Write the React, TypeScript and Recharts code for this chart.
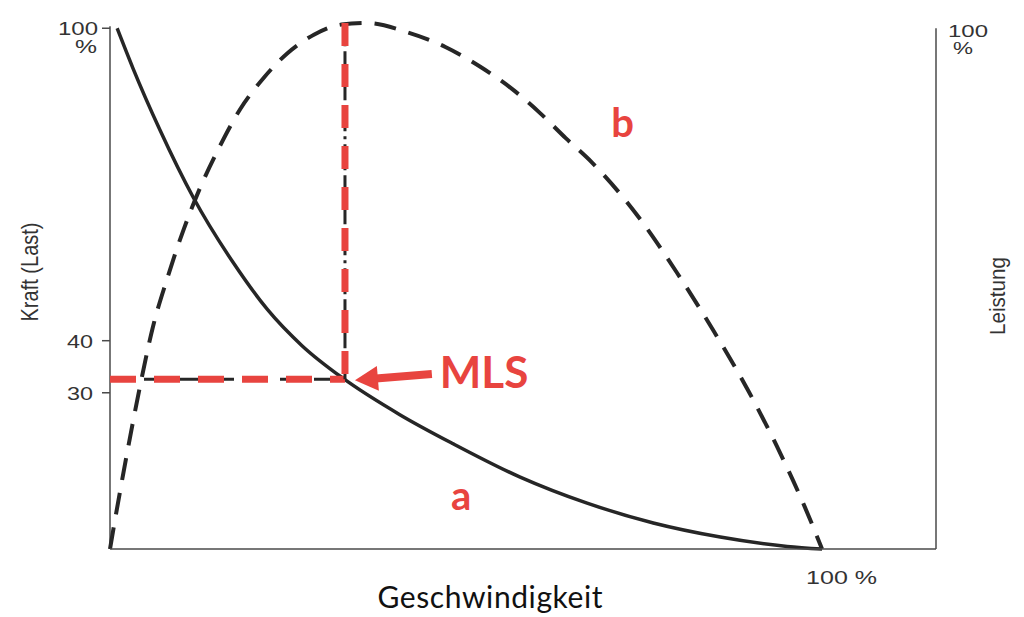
import React from 'react';
import { LineChart, Line, XAxis, YAxis, ReferenceLine, ReferenceDot } from 'recharts';

// curve a: force (Kraft) against speed
const FORCE_X = [1, 3.2, 7, 11.7, 17.3, 22.1, 27, 32.7, 40.7, 48.2, 57.6, 67, 76.3, 85.7, 95.1, 100];
const FORCE_Y = [100, 92.4, 80.5, 67.5, 55, 46, 39, 32.8, 25.8, 20.2, 13.8, 8.8, 5, 2.3, 0.5, 0];

// curve b: power (Leistung) against speed
const POWER_X = [0, 0.5, 1.8, 3.1, 4.4, 6, 8, 10.3, 12.7, 15.3, 18.3, 21.6, 25, 28.7, 32.5, 36, 41.6, 47.1, 52, 56.5, 60.4, 64, 67.7, 74.2, 79.6, 84.8, 89.6, 93.7, 97.6, 100];
const POWER_Y = [0, 4, 14, 23.5, 32.5, 42.5, 51.8, 61.2, 69.5, 77, 84.5, 90.5, 95.3, 98.8, 100.7, 101, 99.3, 96.4, 92.6, 88.3, 83.7, 78.9, 74.2, 63.8, 53.1, 41.8, 30.5, 19.6, 8, 0];

const LEFT_TICKS = [30, 40, 100];
const RIGHT_TICKS = [100];
const SPEED_TICKS = [100];

// MLS point (speed, force) and the arrow pointing at it
const MLS_POINT = [33, 32.6];
const ARROW_FROM = [45.2, 33.6];
const ARROW_TO = [34.4, 32.4];

const RED = '#e8443f';
const INK = '#262626';
const AXIS = '#4a4a4a';
const TICK_FONT = '"Liberation Sans", Arial, sans-serif';
const LABEL_FONT = 'Lato, "Open Sans", sans-serif';

const forceData = FORCE_X.map((x, i) => ({ x, y: FORCE_Y[i] }));
const powerData = POWER_X.map((x, i) => ({ x, y: POWER_Y[i] }));

const LeftTick = ({ x, y, payload }: any) => {
  if (payload.value === 100) {
    return (
      <text fill="#333" fontFamily={TICK_FONT} fontSize={18} textAnchor="end">
        <tspan x={x - 4} y={y + 7} textLength={40} lengthAdjust="spacingAndGlyphs">100</tspan>
        <tspan x={x - 5} y={y + 25} textLength={22} lengthAdjust="spacingAndGlyphs">%</tspan>
      </text>
    );
  }
  return (
    <text x={x - 9} y={y + 7} textAnchor="end" fill="#333" fontFamily={TICK_FONT} fontSize={18}
      textLength={26} lengthAdjust="spacingAndGlyphs">
      {payload.value}
    </text>
  );
};

const RightTick = ({ x, y }: any) => (
  <text fill="#333" fontFamily={TICK_FONT} fontSize={16}>
    <tspan x={x + 12} y={y + 9} textLength={40} lengthAdjust="spacingAndGlyphs">100</tspan>
    <tspan x={x + 17} y={y + 26} textLength={20} lengthAdjust="spacingAndGlyphs">%</tspan>
  </text>
);

const SpeedTick = ({ x, y }: any) => (
  <text x={x - 16} y={y + 35} fill="#333" fontFamily={TICK_FONT} fontSize={18}
    textLength={71} lengthAdjust="spacingAndGlyphs">
    100 %
  </text>
);

const arrowShape = (p: any) => {
  const { x1, y1, x2, y2 } = p;
  const len = Math.hypot(x2 - x1, y2 - y1) || 1;
  const ux = (x2 - x1) / len;
  const uy = (y2 - y1) / len;
  const head = 23;
  const half = 12.5;
  const bx = x2 - ux * head;
  const by = y2 - uy * head;
  return (
    <g>
      <line x1={x1} y1={y1} x2={bx + ux * 2} y2={by + uy * 2} stroke={RED} strokeWidth={8} />
      <polygon
        points={`${x2},${y2} ${bx - uy * half},${by + ux * half} ${bx + uy * half},${by - ux * half}`}
        fill={RED}
      />
    </g>
  );
};

const textShape = (label: string, size: number, anchor: string) => (p: any) => (
  <text x={p.cx} y={p.cy} textAnchor={anchor} fill={RED} fontFamily={LABEL_FONT}
    fontWeight={700} fontSize={size}>
    {label}
  </text>
);

export default function App() {
  return (
    <div style={{ position: 'absolute', left: 0, top: 0, width: 1024, height: 617, background: '#fff' }}>
      <LineChart width={1024} height={617} margin={{ top: 22, right: 28, bottom: 38, left: 50 }}>
        <XAxis
          type="number"
          dataKey="x"
          domain={[0, 116]}
          ticks={SPEED_TICKS}
          tickLine={false}
          tickSize={0}
          tickMargin={0}
          height={30}
          stroke={AXIS}
          strokeWidth={1.5}
          tick={<SpeedTick />}
          label={{
            content: () => (
              <text x={490} y={608} textAnchor="middle" fill="#111" fontFamily={LABEL_FONT} fontSize={30}
                textLength={225} lengthAdjust="spacing">
                Geschwindigkeit
              </text>
            ),
          }}
        />
        <YAxis
          yAxisId="left"
          type="number"
          domain={[0, 101.2]}
          ticks={LEFT_TICKS}
          width={60}
          axisLine={false}
          tickSize={8}
          tickMargin={0}
          tickLine={{ stroke: AXIS, strokeWidth: 1.5 }}
          tick={<LeftTick />}
          label={{
            content: () => (
              <text x={29} y={272} transform="rotate(-90 29 272)" textAnchor="middle" dominantBaseline="central"
                fill="#333" fontFamily={TICK_FONT} fontSize={24} textLength={99} lengthAdjust="spacingAndGlyphs">
                Kraft (Last)
              </text>
            ),
          }}
        />
        <YAxis
          yAxisId="right"
          orientation="right"
          type="number"
          domain={[0, 101.2]}
          ticks={RIGHT_TICKS}
          width={60}
          axisLine={false}
          tickLine={false}
          tickSize={0}
          tickMargin={0}
          tick={<RightTick />}
          label={{
            content: () => (
              <text x={997} y={296} transform="rotate(-90 997 296)" textAnchor="middle" dominantBaseline="central"
                fill="#333" fontFamily={TICK_FONT} fontSize={22} textLength={78} lengthAdjust="spacingAndGlyphs">
                Leistung
              </text>
            ),
          }}
        />

        {/* axis lines */}
        <ReferenceLine yAxisId="left" segment={[{ x: 0, y: 0 }, { x: 0, y: 100.4 }]} stroke={AXIS} strokeWidth={1.5} />
        <ReferenceLine yAxisId="right" segment={[{ x: 116, y: 0 }, { x: 116, y: 100 }]} stroke={AXIS} strokeWidth={1.5} />

        <Line yAxisId="left" data={forceData} dataKey="y" type="monotone" stroke={INK} strokeWidth={3.5}
          dot={false} activeDot={false} isAnimationActive={false} />
        <Line yAxisId="right" data={powerData} dataKey="y" type="monotone" stroke={INK} strokeWidth={4}
          strokeDasharray="22 13" dot={false} activeDot={false} isAnimationActive={false} />

        {/* MLS guide lines: black dashes under red */}
        <ReferenceLine yAxisId="left" segment={[{ x: 0, y: MLS_POINT[1] }, { x: MLS_POINT[0], y: MLS_POINT[1] }]}
          stroke={INK} strokeWidth={3} strokeDasharray="22 12" />
        <ReferenceLine yAxisId="left" segment={[{ x: 0, y: MLS_POINT[1] }, { x: MLS_POINT[0], y: MLS_POINT[1] }]}
          stroke={RED} strokeWidth={7} strokeDasharray="26 18" />
        <ReferenceLine yAxisId="left" segment={[{ x: MLS_POINT[0], y: MLS_POINT[1] }, { x: MLS_POINT[0], y: 101 }]}
          stroke={INK} strokeWidth={3} strokeDasharray="18 5 3 5" />
        <ReferenceLine yAxisId="left" segment={[{ x: MLS_POINT[0], y: 101 }, { x: MLS_POINT[0], y: MLS_POINT[1] }]}
          stroke={RED} strokeWidth={7} strokeDasharray="23 18" />

        <ReferenceLine yAxisId="left" segment={[{ x: ARROW_FROM[0], y: ARROW_FROM[1] }, { x: ARROW_TO[0], y: ARROW_TO[1] }]}
          shape={arrowShape} />

        <ReferenceDot yAxisId="left" x={46.3} y={30.9} r={0} shape={textShape('MLS', 44, 'start')} />
        <ReferenceDot yAxisId="left" x={49.3} y={7.5} r={0} shape={textShape('a', 40, 'middle')} />
        <ReferenceDot yAxisId="left" x={72} y={79.1} r={0} shape={textShape('b', 40, 'middle')} />
      </LineChart>
    </div>
  );
}
